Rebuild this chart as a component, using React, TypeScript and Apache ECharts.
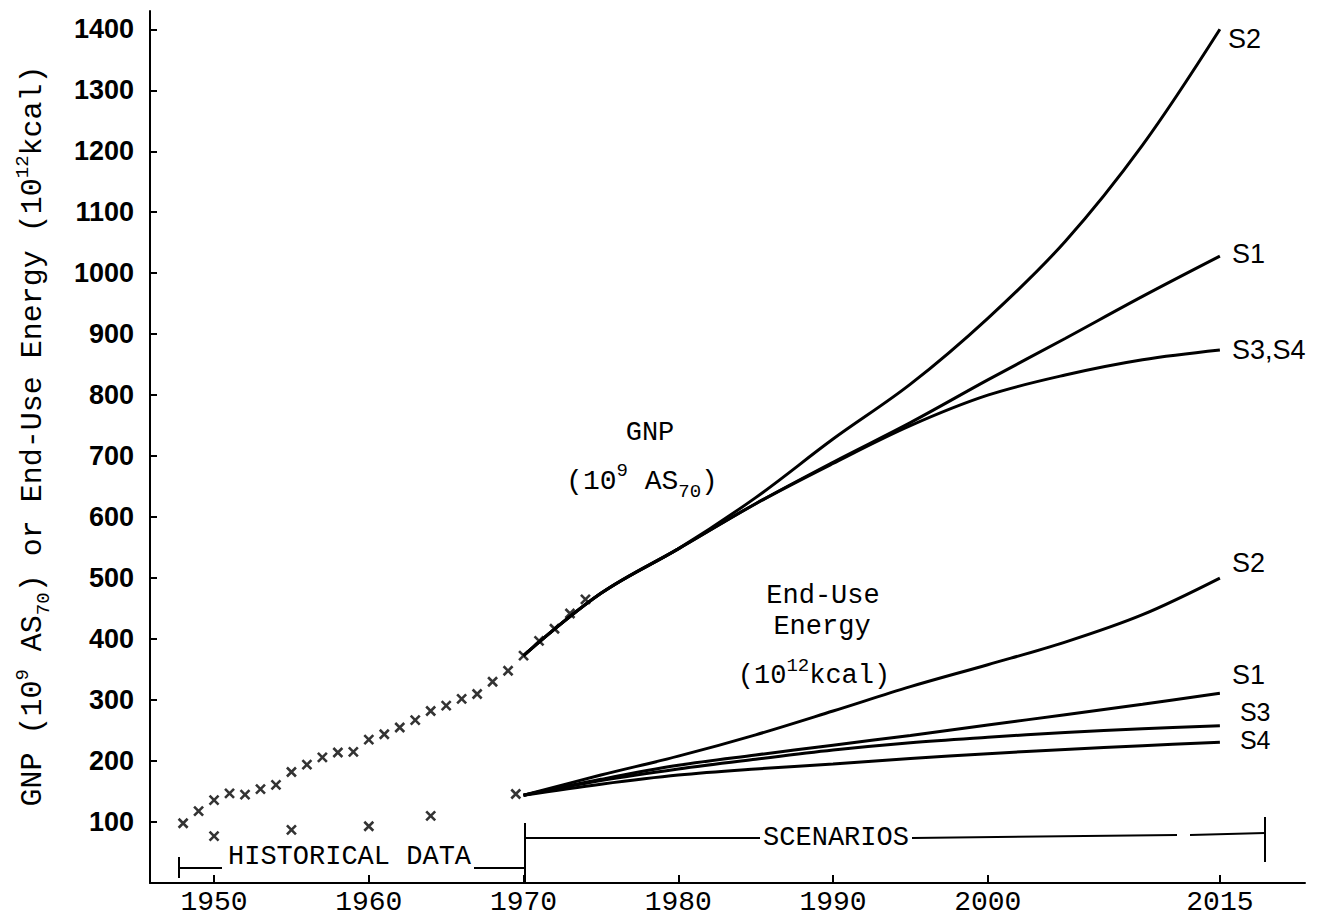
import React, { useEffect, useRef } from 'react';
import * as echarts from 'echarts';

// ---- data ----
const scenarioYears = [1970, 1975, 1980, 1985, 1990, 1995, 2000, 2005, 2010, 2015];
const gnpS2 = [373, 475, 548, 632, 728, 818, 926, 1052, 1210, 1400];
const gnpS1 = [373, 475, 548, 622, 690, 755, 825, 893, 962, 1028];
const gnpS34 = [373, 475, 548, 622, 688, 750, 800, 833, 858, 874];
const energyS2 = [144, 177, 208, 243, 282, 322, 358, 395, 440, 500];
const energyS1 = [144, 170, 193, 210, 226, 242, 259, 276, 293, 311];
const energyS3 = [144, 168, 187, 203, 218, 230, 239, 247, 253, 258];
const energyS4 = [144, 162, 177, 187, 195, 204, 212, 219, 225, 231];

const gnpHistYears = [1948, 1949, 1950, 1951, 1952, 1953, 1954, 1955, 1956, 1957, 1958, 1959, 1960, 1961,
  1962, 1963, 1964, 1965, 1966, 1967, 1968, 1969, 1970, 1971, 1972, 1973, 1974];
const gnpHist = [98, 118, 136, 147, 145, 154, 161, 182, 194, 206, 214, 215, 235, 244,
  255, 267, 282, 291, 302, 310, 330, 348, 373, 397, 417, 442, 465];
const energyHistYears = [1950, 1955, 1960, 1964, 1969.5];
const energyHist = [77, 87, 93, 110, 146];

const xTickYears = [1950, 1960, 1970, 1980, 1990, 2000, 2015];
const yTickValues = [100, 200, 300, 400, 500, 600, 700, 800, 900, 1000, 1100, 1200, 1300, 1400];

const MONO = "'Liberation Mono', 'DejaVu Sans Mono', monospace";
const SANS = "'Liberation Sans', Arial, sans-serif";
const CROSS = 'path://M0,0L10,10M10,0L0,10';

const pairs = (xs: number[], ys: number[]) => xs.map((x, i) => [x, ys[i]]);

const lineSeries = (data: number[], label: string, offset: number[], size = 27) => ({
  type: 'line',
  data: pairs(scenarioYears, data),
  showSymbol: false,
  smooth: 0.35,
  silent: true,
  lineStyle: { color: '#000', width: 3 },
  endLabel: {
    show: true,
    formatter: label,
    color: '#000',
    fontFamily: SANS,
    fontSize: size,
    lineHeight: 22,
    distance: 8,
    offset,
  },
  z: 3,
});

const crossSeries = (xs: number[], ys: number[]) => ({
  type: 'scatter',
  data: pairs(xs, ys),
  symbol: CROSS,
  symbolSize: 9,
  silent: true,
  itemStyle: { color: '#000', borderColor: '#000', borderWidth: 2.6 },
  z: 4,
});

const supSub = {
  sup: { fontSize: 19, fontFamily: MONO, lineHeight: 20, verticalAlign: 'top', fill: '#000' },
  sub: { fontSize: 19, fontFamily: MONO, lineHeight: 20, verticalAlign: 'bottom', fill: '#000' },
};

const txt = (text: string, x: number, y: number, size: number, align = 'center', extra: any = {}) => ({
  type: 'text',
  x,
  y,
  silent: true,
  ...extra,
  style: {
    text,
    fill: '#000',
    fontFamily: MONO,
    fontSize: size,
    lineHeight: 40,
    align,
    verticalAlign: 'middle',
    rich: supSub,
  },
});

const seg = (x1: number, y1: number, x2: number, y2: number) => ({
  type: 'line',
  silent: true,
  shape: { x1, y1, x2, y2 },
  style: { stroke: '#000', lineWidth: 2 },
});

function buildOption() {
  return {
    animation: false,
    backgroundColor: '#fff',
    grid: { left: 150, right: 19, top: 11, bottom: 34, containLabel: false },
    xAxis: {
      type: 'value',
      min: 1945.86,
      max: 2020.5,
      splitLine: { show: false },
      axisLine: { show: true, lineStyle: { color: '#000', width: 2 } },
      axisTick: {
        show: true,
        inside: true,
        length: 8,
        customValues: xTickYears,
        lineStyle: { color: '#000', width: 2 },
      },
      axisLabel: {
        customValues: xTickYears,
        color: '#000',
        fontFamily: MONO,
        fontSize: 28,
        margin: 5,
        formatter: (v: number) => String(Math.round(v)),
      },
    },
    yAxis: {
      type: 'value',
      min: 0,
      max: 1430,
      splitLine: { show: false },
      axisLine: { show: true, lineStyle: { color: '#000', width: 2 } },
      axisTick: {
        show: true,
        inside: true,
        length: 7,
        customValues: yTickValues,
        lineStyle: { color: '#000', width: 2 },
      },
      axisLabel: {
        customValues: yTickValues,
        color: '#000',
        fontFamily: SANS,
        fontWeight: 'bold',
        fontSize: 27,
        margin: 16,
        formatter: (v: number) => String(Math.round(v)),
      },
    },
    series: [
      crossSeries(gnpHistYears, gnpHist),
      crossSeries(energyHistYears, energyHist),
      lineSeries(gnpS2, 'S2', [0, 10]),
      lineSeries(gnpS1, 'S1', [4, -2]),
      lineSeries(gnpS34, 'S3,S4', [4, 0]),
      lineSeries(energyS2, 'S2', [4, -15]),
      lineSeries(energyS1, 'S1', [4, -18]),
      lineSeries(energyS3, 'S3', [12, -14], 25),
      lineSeries(energyS4, 'S4', [12, -2], 25),
    ],
    graphic: [
      // y-axis title
      txt('GNP (10{sup|9} AS{sub|70}) or End-Use Energy (10{sup|12}kcal)', 33, 436, 30, 'center', {
        rotation: Math.PI / 2,
      }),
      // curve annotations
      txt('GNP', 650, 433, 27),
      txt('(10{sup|9} AS{sub|70})', 642, 481, 28),
      txt('End-Use', 823, 596, 27),
      txt('Energy', 822, 627, 27),
      txt('(10{sup|12}kcal)', 814, 676, 27),
      // historical bracket
      seg(179, 857, 179, 878),
      seg(179, 868, 222, 868),
      txt('HISTORICAL DATA', 228, 857, 27, 'left'),
      seg(474, 868, 525, 868),
      seg(525, 823, 525, 882),
      // scenarios bracket
      seg(525, 838, 760, 838),
      txt('SCENARIOS', 836, 838, 27),
      seg(912, 838, 1177, 835),
      seg(1190, 835, 1265, 833),
      seg(1265, 817, 1265, 862),
    ],
  };
}

export default function App() {
  const ref = useRef<HTMLDivElement>(null);
  useEffect(() => {
    if (!ref.current) return;
    const chart = echarts.init(ref.current, null, { renderer: 'svg' });
    chart.setOption(buildOption() as any);
    return () => chart.dispose();
  }, []);
  return (
    <div
      ref={ref}
      style={{ position: 'fixed', left: 0, top: 0, width: 1324, height: 917, background: '#fff' }}
    />
  );
}
